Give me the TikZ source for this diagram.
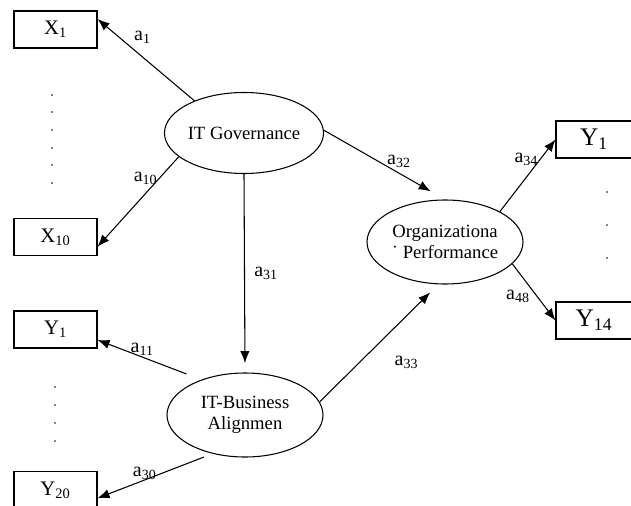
\documentclass[tikz,border=0pt]{standalone}
\usepackage{fontspec}
\setmainfont{Liberation Serif}
\usetikzlibrary{arrows.meta,shapes.geometric,positioning}

\tikzset{
  item/.style={draw, rectangle, minimum width=62.25pt, minimum height=27.75pt, inner sep=0pt, font=\fontsize{15.5}{18}\selectfont},
  latent/.style={draw, ellipse, inner sep=0pt, align=center, minimum width=117pt, minimum height=63pt, font=\fontsize{14}{15.75}\selectfont},
  coef/.style={font=\fontsize{15}{17}\selectfont, inner sep=1pt},
}

\begin{document}
\begin{tikzpicture}[x=0.75pt,y=-0.75pt,line width=0.8pt,>={Latex[length=9pt,width=7pt]}]
  \useasboundingbox (0,0) rectangle (631,506);
  \clip (0,0) rectangle (631,506);
  % indicators
  \node[item] (x1) at (55.5,29.5) {X\textsubscript{1}};
  \node[item] (x10) at (55.5,237) {X\textsubscript{10}};
  \node[item] (yb1) at (55.5,329.5) {Y\textsubscript{1}};
  \node[item] (yb20) at (55.5,490) {Y\textsubscript{20}};
  \node[item, minimum width=57pt, font=\fontsize{19}{22}\selectfont] (yp1) at (594,139.5) {Y\textsubscript{1}};
  \node[item, minimum width=57pt, font=\fontsize{19}{22}\selectfont] (yp14) at (594,320.5) {Y\textsubscript{14}};
  % latent variables
  \node[latent, minimum width=115.5pt, minimum height=60.75pt] (gov) at (244,133) {IT Governance};
  \node[latent] (iba) at (245,415) {IT-Business\\Alignmen};
  \node[latent] (op) at (445,242) {Organizationa\\˙ Performance};
  % dots
  \foreach \y in {95,112,130,148,165,183}
    \fill (52,\y) circle (0.6pt);
  \foreach \y in {387,405,423,441}
    \fill (55,\y) circle (0.6pt);
  \foreach \y in {192,225,258}
    \fill (607,\y) circle (0.6pt);
  \path[->]
  (gov.147) edge node[coef, pos=0.66, above right=2pt] {a\textsubscript{1}} (x1.14)
  (gov.200) edge node[coef, pos=0.24, left] {a\textsubscript{10}} (x10.347)
  (gov.south) edge[shorten >=7pt] node[coef, right=6pt] {a\textsubscript{31}} (iba.north)
  (gov.2) edge[shorten >=12.4pt] node[coef, pos=0.62, above=3pt] {a\textsubscript{32}} (op.north)
  (iba.10) edge[shorten >=8.5pt] node[coef, pos=0.56, below right=14pt and 5pt] {a\textsubscript{33}} (op.261)
  (iba.141) edge[shorten <=12pt] node[coef, pos=0.57, above] {a\textsubscript{11}} (yb1.346)
  (iba.230) edge[shorten <=7pt] node[coef, pos=0.59, above, inner sep=0pt] {a\textsubscript{30}} (yb20.349)
  (op.29) edge node[coef, pos=0.72, left] {a\textsubscript{34}} (yp1.west)
  (op.342) edge node[coef, pos=0.57, left=4pt] {a\textsubscript{48}} (yp14.west);
\end{tikzpicture}
\end{document}
